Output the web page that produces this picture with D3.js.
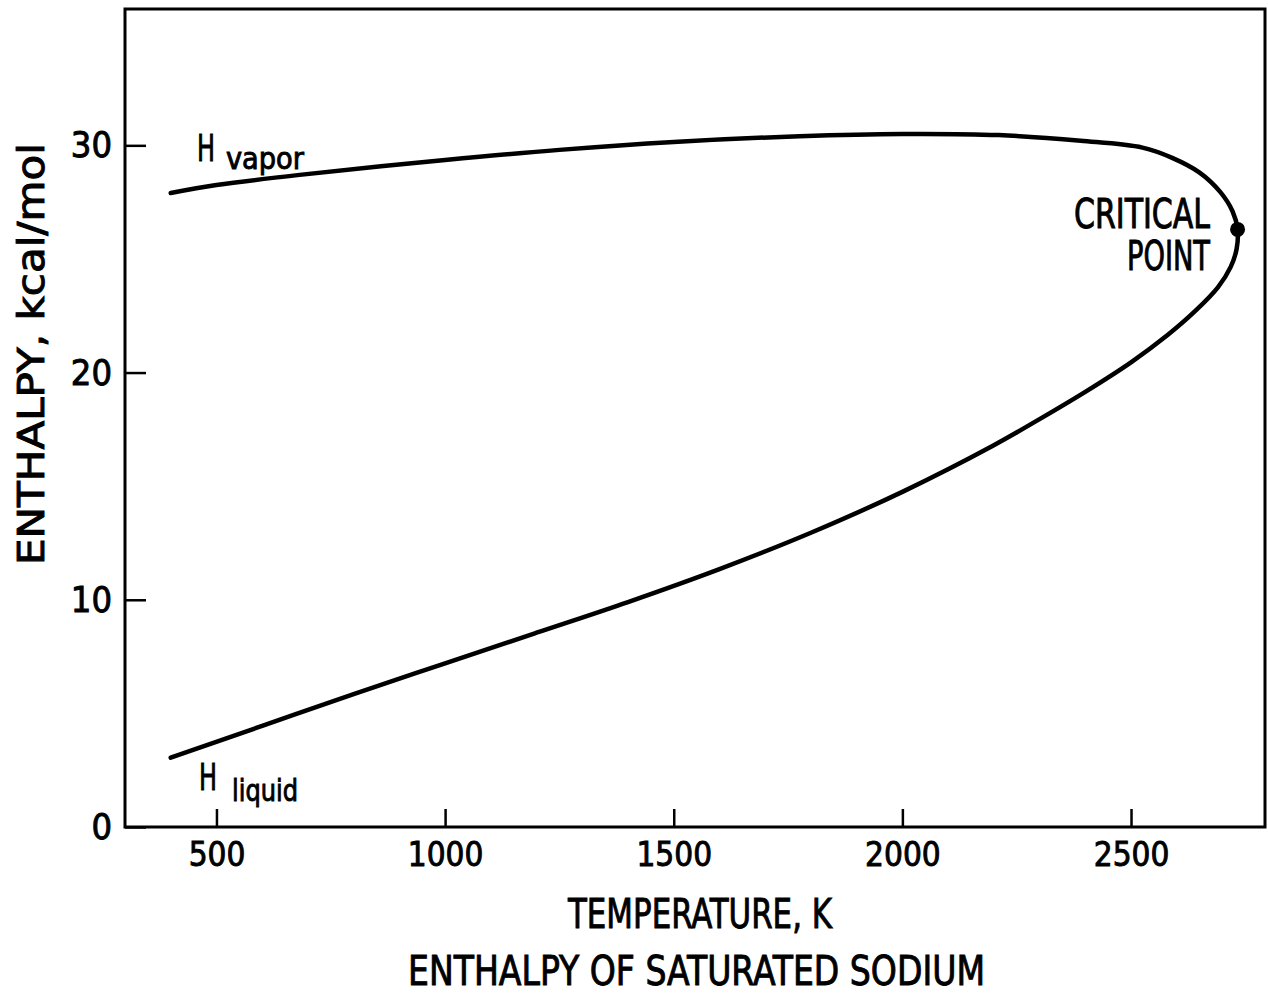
<!DOCTYPE html>
<html>
<head>
<meta charset="utf-8">
<script src="https://cdn.jsdelivr.net/npm/d3@7"></script>
<style>
  html, body { margin: 0; padding: 0; background: #fff; }
  svg { display: block; }
  text { font-family: "DejaVu Sans Condensed", "DejaVu Sans", sans-serif; fill: #000; stroke: #000; stroke-width: 0.9px; }
</style>
</head>
<body>
<svg id="chart" width="1268" height="995"></svg>
<script>
// ---- data ----
const xTicks = [500, 1000, 1500, 2000, 2500];
const yTicks = [0, 10, 20, 30];

const vaporT = [400, 500, 682, 1000, 1250, 1500, 1775, 2000, 2210, 2390, 2525, 2590, 2650, 2695, 2722];
const vaporH = [27.9, 28.25, 28.7, 29.35, 29.8, 30.15, 30.4, 30.5, 30.45, 30.2, 29.9, 29.45, 28.8, 27.95, 27.1];

const criticalT = 2733;
const criticalH = 26.3;

const liquidT = [2731, 2718, 2690, 2640, 2580, 2500, 2400, 2300, 2200, 2000, 1800, 1600, 1400, 1200, 1000, 800, 600, 400];
const liquidH = [25.45, 24.65, 23.75, 22.7, 21.65, 20.45, 19.15, 17.95, 16.8, 14.75, 12.95, 11.35, 9.9, 8.55, 7.2, 5.85, 4.45, 3.05];

const xTitle = "TEMPERATURE, K";
const chartTitle = "ENTHALPY OF SATURATED SODIUM";
const yTitle = "ENTHALPY, kcal/mol";

// ---- layout ----
const L = 125, R = 1265, T = 9, B = 827;
const svg = d3.select("#chart");

const x = d3.scaleLinear().domain([300, 2793]).range([L, R]);
const y = d3.scaleLinear().domain([0, 36]).range([B, T]);

// frame
svg.append("rect")
  .attr("x", L).attr("y", T).attr("width", R - L).attr("height", B - T)
  .attr("fill", "none").attr("stroke", "#000").attr("stroke-width", 3);

// x axis (ticks inward)
const gx = svg.append("g").attr("transform", `translate(0,${B})`)
  .call(d3.axisBottom(x).tickValues(xTicks).tickSize(-18).tickPadding(16).tickFormat(d3.format("d")));
gx.select(".domain").remove();
gx.selectAll(".tick line").attr("stroke", "#000").attr("stroke-width", 2.5);
gx.selectAll(".tick text").attr("font-size", 33).attr("fill", "#000")
  .attr("font-family", "DejaVu Sans Condensed, DejaVu Sans, sans-serif");

// y axis (ticks inward)
const gy = svg.append("g").attr("transform", `translate(${L},0)`)
  .call(d3.axisLeft(y).tickValues(yTicks).tickSize(-21).tickPadding(13).tickFormat(d3.format("d")));
gy.select(".domain").remove();
gy.selectAll(".tick line").attr("stroke", "#000").attr("stroke-width", 2.5);
gy.selectAll(".tick text").attr("font-size", 36).attr("fill", "#000")
  .attr("font-family", "DejaVu Sans Condensed, DejaVu Sans, sans-serif");

// curve: vapor branch -> critical point -> liquid branch
const pts = [];
vaporT.forEach((t, i) => pts.push([t, vaporH[i]]));
pts.push([criticalT, criticalH]);
liquidT.forEach((t, i) => pts.push([t, liquidH[i]]));

const line = d3.line()
  .x(d => x(d[0])).y(d => y(d[1]))
  .curve(d3.curveCatmullRom.alpha(0.5));

svg.append("path")
  .attr("d", line(pts))
  .attr("fill", "none").attr("stroke", "#000").attr("stroke-width", 4.5)
  .attr("stroke-linecap", "round").attr("stroke-linejoin", "round");

// critical point marker
svg.append("circle")
  .attr("cx", x(criticalT)).attr("cy", y(criticalH)).attr("r", 7.5).attr("fill", "#000");

// critical point label
svg.append("text").attr("x", 1210).attr("y", 228).attr("text-anchor", "end")
  .attr("font-size", 40).attr("textLength", 136).attr("lengthAdjust", "spacingAndGlyphs").text("CRITICAL");
svg.append("text").attr("x", 1210).attr("y", 270).attr("text-anchor", "end")
  .attr("font-size", 40).attr("textLength", 83).attr("lengthAdjust", "spacingAndGlyphs").text("POINT");

// H vapor label
svg.append("text").attr("x", 197).attr("y", 161).attr("font-size", 37)
  .attr("textLength", 18).attr("lengthAdjust", "spacingAndGlyphs").text("H");
svg.append("text").attr("x", 226).attr("y", 169).attr("font-size", 31)
  .attr("textLength", 78).attr("lengthAdjust", "spacingAndGlyphs").text("vapor");

// H liquid label
svg.append("text").attr("x", 199).attr("y", 790).attr("font-size", 37)
  .attr("textLength", 18).attr("lengthAdjust", "spacingAndGlyphs").text("H");
svg.append("text").attr("x", 232).attr("y", 801).attr("font-size", 31)
  .attr("textLength", 66).attr("lengthAdjust", "spacingAndGlyphs").text("liquid");

// axis titles
svg.append("text").attr("x", 568).attr("y", 928).attr("font-size", 41)
  .attr("textLength", 264).attr("lengthAdjust", "spacingAndGlyphs").text(xTitle);
svg.append("text").attr("x", 408).attr("y", 985).attr("font-size", 41)
  .attr("textLength", 577).attr("lengthAdjust", "spacingAndGlyphs").text(chartTitle);
svg.append("text").attr("transform", "translate(44,565) rotate(-90)").attr("font-size", 38)
  .attr("textLength", 422).attr("lengthAdjust", "spacingAndGlyphs").text(yTitle);
</script>
</body>
</html>
